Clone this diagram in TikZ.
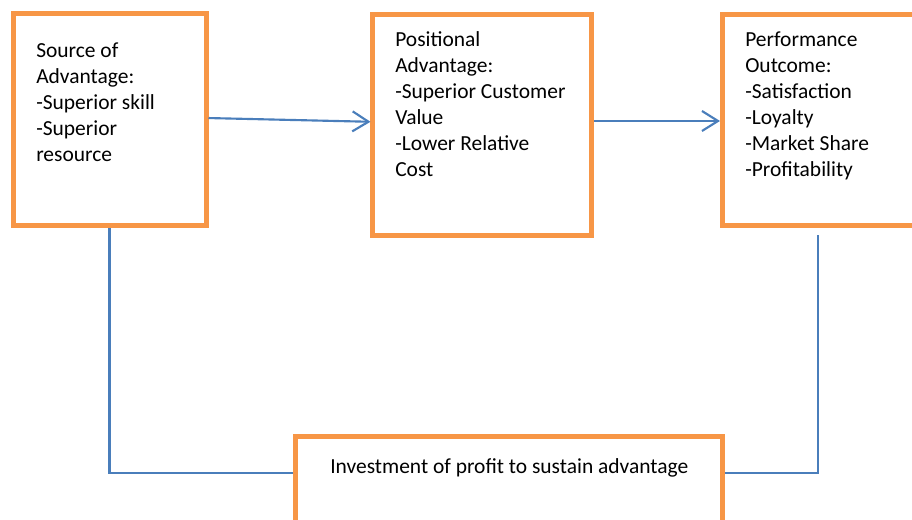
\documentclass[tikz,border=0pt]{standalone}
\usepackage{fontspec}
\setmainfont{Carlito}
\usetikzlibrary{arrows.meta}
\definecolor{boxorange}{HTML}{F79646}
\definecolor{linkblue}{HTML}{4A7EBB}
\begin{document}
\begin{tikzpicture}[x=0.75pt,y=-0.75pt,
  box/.style={draw=boxorange, line width=3.75pt, inner sep=0pt, fill=white},
  txt/.style={anchor=base west, align=left, inner sep=0pt,
    font=\fontsize{16.1pt}{19.5pt}\selectfont},
  link/.style={draw=linkblue, line width=1.6pt},
  arr/.style={link, -{Straight Barb[length=12pt,width=15pt,line width=1.6pt]}}]
\useasboundingbox (0,0) rectangle (912,519);
\clip (0,0) rectangle (912,519);
% boxes
\node[box, minimum width=144.75pt, minimum height=159pt] (b1) at (109.5,119.5) {};
\node[box, minimum width=163.9pt, minimum height=166.1pt] (b2) at (482.25,125.25) {};
\node[box, minimum width=151.9pt, minimum height=158.25pt] (b3) at (823.75,120) {};
\node[box, minimum width=320.25pt, minimum height=92.6pt] (b4) at (509,498.25) {};
% texts (base anchor = baseline of last line)
\node[txt] (t1) at (36,161) {Source of\\Advantage:\\-Superior skill\\-Superior\\resource};
\node[txt] (t2) at (395,176) {Positional\\Advantage:\\-Superior Customer\\Value\\-Lower Relative\\Cost};
\node[txt] (t3) at (745,176) {Performance\\Outcome:\\-Satisfaction\\-Loyalty\\-Market Share\\-Profitability};
\node[txt] (t4) at (330,473) {Investment of profit to sustain advantage};
% arrows
\draw[arr] ([yshift=1.1pt]b1.east) -- ([yshift=2.6pt]b2.west);
\draw[arr] ([yshift=3.2pt]b2.east) -- ([yshift=3.2pt]b2.east -| b3.west);
% feedback lines
\draw[link] (b1.south) |- ([yshift=18.9pt]b4.west);
\coordinate (r0) at (818,235);
\draw[link] (r0) |- ([yshift=18.9pt]b4.east);
\end{tikzpicture}
\end{document}
